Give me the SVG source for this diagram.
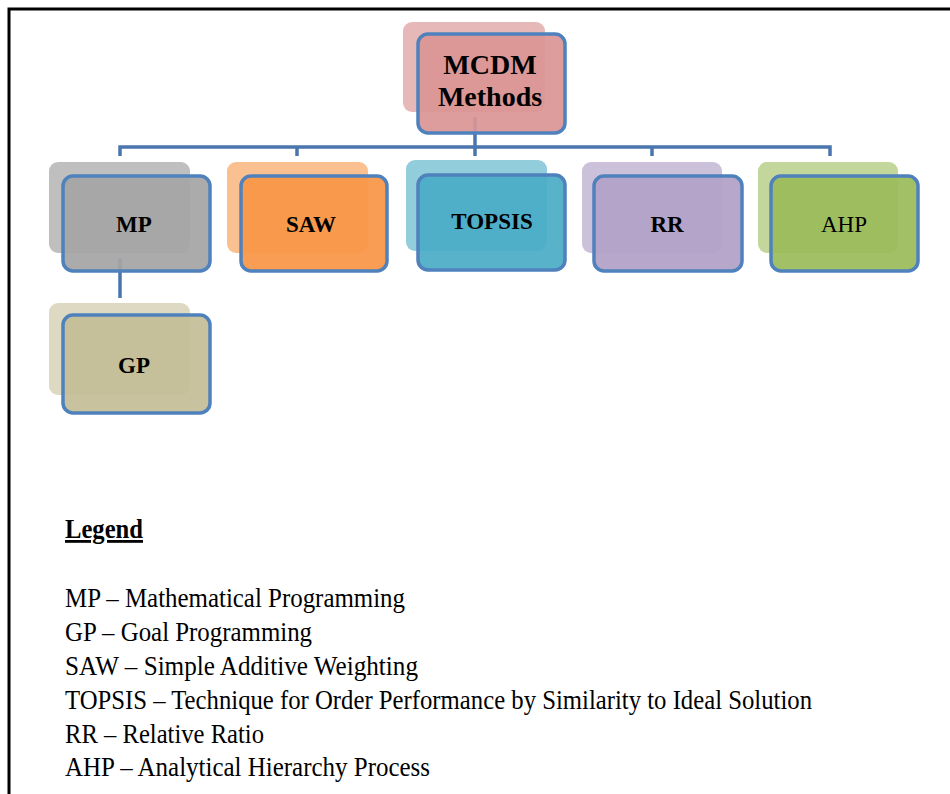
<svg xmlns="http://www.w3.org/2000/svg" width="950" height="794" viewBox="0 0 950 794">
<style>
.frame{stroke:#000;stroke-width:3;fill:none}
.conn{stroke:#4a76ad;stroke-width:3.5;fill:none}
.back{stroke:none}
.front{stroke:#4f81bd;stroke-width:3.5;fill-opacity:0.93}
.lbl{font-family:"Liberation Serif","Times New Roman",serif;font-weight:bold;font-size:23px;fill:#000;text-anchor:middle}
.leg{font-family:"Liberation Serif","Times New Roman",serif;font-size:28px;fill:#000}
</style>
<rect width="950" height="794" fill="#fff"/>
<path class="frame" d="M9,794 V9 H950"/>
<g id="connectors">
<path class="conn" d="M475,117 V147"/>
<path class="conn" d="M120,156 V147 H830 V156"/>
<path class="conn" d="M297,147 V156"/>
<path class="conn" d="M475,147 V156"/>
<path class="conn" d="M652,147 V156"/>
<path class="conn" d="M120,258 V298"/>
</g>
<g id="mcdm">
<rect class="back" x="403" y="22" width="142" height="90" rx="9" fill="#e6b9b8"/>
<rect class="front" x="418" y="34" width="147" height="99" rx="10" fill="#d99694"/>
<text class="lbl" x="490" y="74" style="font-size:28px">MCDM</text>
<text class="lbl" x="490" y="106" style="font-size:28px">Methods</text>
</g>
<g id="mp">
<rect class="back" x="49" y="162" width="141" height="91" rx="9" fill="#bfbfbf"/>
<rect class="front" x="63" y="176" width="147" height="95" rx="10" fill="#a5a5a5"/>
<text class="lbl" x="134" y="232">MP</text>
</g>
<g id="saw">
<rect class="back" x="227" y="162" width="141" height="91" rx="9" fill="#fac090"/>
<rect class="front" x="241" y="176" width="146" height="95" rx="10" fill="#f79646"/>
<text class="lbl" x="311" y="232">SAW</text>
</g>
<g id="topsis">
<rect class="back" x="406" y="160" width="141" height="91" rx="9" fill="#92cddc"/>
<rect class="front" x="418" y="175" width="147" height="95" rx="10" fill="#4bacc6"/>
<text class="lbl" x="492" y="229">TOPSIS</text>
</g>
<g id="rr">
<rect class="back" x="582" y="162" width="140" height="91" rx="9" fill="#ccc1da"/>
<rect class="front" x="594" y="176" width="148" height="95" rx="10" fill="#b2a1c7"/>
<text class="lbl" x="667" y="232">RR</text>
</g>
<g id="ahp">
<rect class="back" x="758" y="162" width="140" height="91" rx="9" fill="#c3d69b"/>
<rect class="front" x="771" y="176" width="147" height="95" rx="10" fill="#9bbb59"/>
<text class="lbl" x="844" y="232" style="font-weight:normal">AHP</text>
</g>
<g id="gp">
<rect class="back" x="49" y="303" width="141" height="92" rx="9" fill="#ddd9c3"/>
<rect class="front" x="63" y="315" width="147" height="98" rx="10" fill="#c4bd97"/>
<text class="lbl" x="134" y="373">GP</text>
</g>
<g id="legend">
<text class="leg" x="65" y="538" textLength="78" lengthAdjust="spacingAndGlyphs" style="font-weight:bold;text-decoration:underline">Legend</text>
<text class="leg" x="65" y="607" textLength="340" lengthAdjust="spacingAndGlyphs">MP – Mathematical Programming</text>
<text class="leg" x="65" y="641" textLength="247" lengthAdjust="spacingAndGlyphs">GP – Goal Programming</text>
<text class="leg" x="65" y="675" textLength="353" lengthAdjust="spacingAndGlyphs">SAW – Simple Additive Weighting</text>
<text class="leg" x="65" y="709" textLength="747" lengthAdjust="spacingAndGlyphs">TOPSIS – Technique for Order Performance by Similarity to Ideal Solution</text>
<text class="leg" x="65" y="743" textLength="199" lengthAdjust="spacingAndGlyphs">RR – Relative Ratio</text>
<text class="leg" x="65" y="776" textLength="365" lengthAdjust="spacingAndGlyphs">AHP – Analytical Hierarchy Process</text>
</g>
</svg>
